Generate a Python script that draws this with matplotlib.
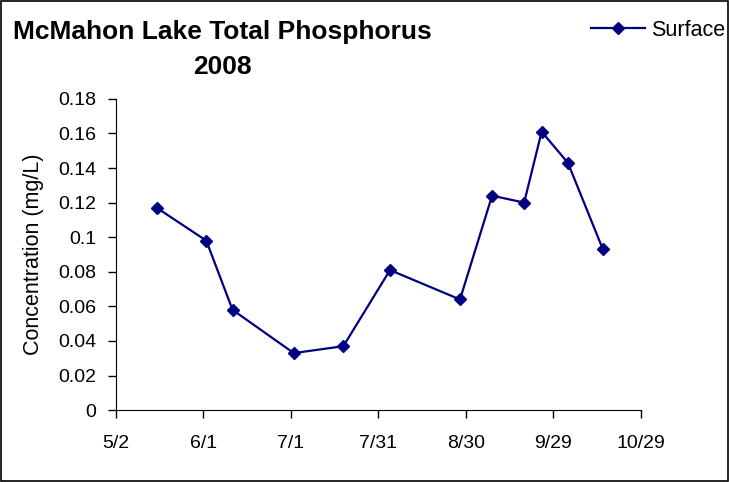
import pandas as pd
import matplotlib
matplotlib.use("Agg")
import matplotlib.pyplot as plt

plt.rcParams["font.family"] = ["Liberation Sans", "DejaVu Sans"]

# sample dates (2008) and surface total phosphorus, mg/L
sample_dates = ["2008-05-16", "2008-06-02", "2008-06-11", "2008-07-02",
                "2008-07-19", "2008-08-04", "2008-08-28", "2008-09-08",
                "2008-09-19", "2008-09-25", "2008-10-04", "2008-10-16"]
surface = [0.117, 0.098, 0.058, 0.033, 0.037, 0.081,
           0.064, 0.124, 0.120, 0.161, 0.143, 0.093]

tick_dates = ["2008-05-02", "2008-06-01", "2008-07-01", "2008-07-31",
              "2008-08-30", "2008-09-29", "2008-10-29"]
tick_labels = ["5/2", "6/1", "7/1", "7/31", "8/30", "9/29", "10/29"]
y_ticks = [0, 0.02, 0.04, 0.06, 0.08, 0.1, 0.12, 0.14, 0.16, 0.18]
y_labels = ["0", "0.02", "0.04", "0.06", "0.08", "0.1", "0.12",
            "0.14", "0.16", "0.18"]

x = pd.to_datetime(sample_dates)
xt = pd.to_datetime(tick_dates)

fig = plt.figure(figsize=(7.29, 4.82), dpi=100)
ax = fig.add_axes([0.159, 0.149, 0.72, 0.646])

ax.plot(x, surface, color="#000080", lw=1.6, marker="D", ms=6.5,
        label="Surface")

ax.set_xlim(xt[0], xt[-1])
ax.set_xticks(xt)
ax.set_xticklabels(tick_labels)
ax.set_ylim(0, 0.18)
ax.set_yticks(y_ticks)
ax.set_yticklabels(y_labels)
ax.tick_params(labelsize=14, length=6, width=1, direction="out")
ax.tick_params(axis="x", pad=12)
ax.tick_params(axis="y", pad=8)
ax.spines["top"].set_visible(False)
ax.spines["right"].set_visible(False)
ax.set_ylabel("Concentration (mg/L)", fontsize=15.5, labelpad=10)

fig.text(0.305, 0.897, "McMahon Lake Total Phosphorus\n2008", ha="center",
         va="center", fontsize=19, fontweight="bold", linespacing=1.6)

ax.legend(loc="upper left", bbox_to_anchor=(0.79, 0.99), frameon=False,
          fontsize=15.5, handlelength=2.5, handletextpad=0.3,
          borderaxespad=0.3, bbox_transform=fig.transFigure)

# outer border
fig.patches.append(plt.Rectangle((0.002, 0.002), 0.996, 0.996,
                                 transform=fig.transFigure, fill=False,
                                 edgecolor="black", lw=1.2))

fig.savefig("out.png", dpi=100)
